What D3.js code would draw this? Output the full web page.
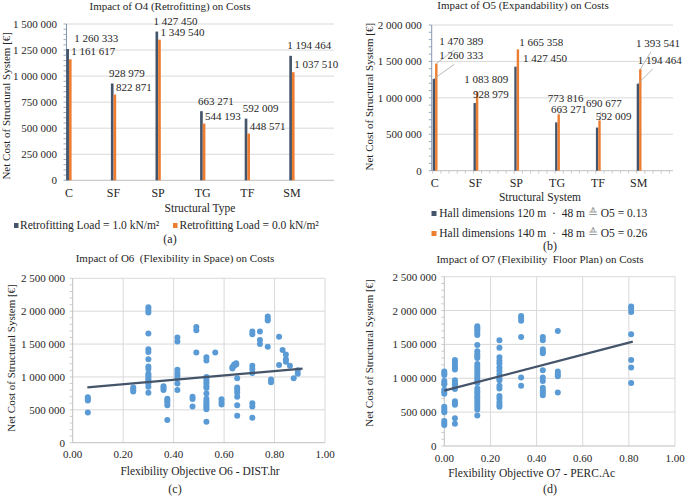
<!DOCTYPE html>
<html><head><meta charset="utf-8">
<script src="https://cdn.jsdelivr.net/npm/d3@7"></script>
<style>
body{margin:0;background:#fff}
text{white-space:pre}
</style>
</head><body>
<svg id="chart" width="685" height="496"></svg>
<script>
// ---------------- DATA ----------------
const categories = ["C", "SF", "SP", "TG", "TF", "SM"];
const o4Load10 = [1260333, 928979, 1427450, 663271, 592009, 1194464];
const o4Load00 = [1161617, 822871, 1349540, 544193, 448571, 1037510];
const o5Hall120 = [1260333, 928979, 1427450, 663271, 592009, 1194464];
const o5Hall140 = [1470389, 1083809, 1665358, 773816, 690677, 1393541];

const yTicksA = [0, 250000, 500000, 750000, 1000000, 1250000, 1500000];
const yTicksB = [0, 500000, 1000000, 1500000, 2000000];
const yTicksScatter = [0, 500000, 1000000, 1500000, 2000000, 2500000];
const xTicksScatter = [0, 0.2, 0.4, 0.6, 0.8, 1.0];

// O6 scatter: [DIST.hr, cost]
const o6Points = [
 [0.06,690000],[0.06,660000],[0.06,640000],[0.06,460000],
 [0.24,840000],[0.24,810000],[0.24,780000],
 [0.30,2060000],[0.30,2020000],[0.30,1980000],[0.30,1660000],[0.30,1420000],[0.30,1380000],
 [0.30,1270000],[0.30,1160000],[0.30,1120000],[0.30,1050000],[0.30,1020000],[0.30,990000],
 [0.30,960000],[0.30,930000],[0.30,900000],[0.30,850000],[0.30,760000],
 [0.36,860000],[0.36,830000],[0.36,800000],
 [0.375,670000],[0.375,640000],[0.375,610000],[0.375,570000],[0.375,345000],
 [0.415,1600000],[0.415,1540000],[0.415,1110000],[0.415,1060000],[0.415,1020000],[0.415,980000],
 [0.415,900000],[0.415,800000],
 [0.475,700000],[0.475,665000],[0.475,550000],
 [0.49,1760000],[0.49,1710000],[0.49,1370000],
 [0.53,1300000],[0.53,1250000],[0.53,1000000],[0.53,970000],[0.53,930000],[0.53,900000],
 [0.53,860000],[0.53,830000],[0.53,750000],[0.53,670000],[0.53,630000],[0.53,600000],
 [0.53,570000],[0.53,540000],[0.53,510000],[0.53,320000],
 [0.565,1370000],
 [0.59,660000],[0.59,620000],[0.59,580000],
 [0.633,1150000],[0.633,1130000],[0.64,1170000],[0.64,1190000],[0.648,1210000],[0.648,1190000],
 [0.652,980000],[0.652,840000],[0.652,800000],[0.652,760000],[0.652,700000],[0.652,570000],[0.652,410000],
 [0.712,1690000],[0.712,1650000],[0.712,1170000],[0.712,1120000],[0.712,1060000],
 [0.712,600000],[0.712,550000],[0.712,380000],
 [0.742,1690000],[0.742,1560000],[0.742,1500000],
 [0.773,1920000],[0.773,1880000],[0.773,1860000],[0.773,1460000],
 [0.786,960000],[0.786,920000],
 [0.818,1610000],[0.818,1180000],
 [0.832,1410000],
 [0.845,1340000],[0.845,1270000],[0.845,1230000],
 [0.861,1170000],
 [0.876,980000],
 [0.892,1100000],[0.892,1050000]
];
const o6Trend = [[0.058, 842000], [0.911, 1126000]];

// O7 scatter: [PERC.Ac, cost]
const o7Points = [
 [0.00,1100000],[0.00,1070000],[0.00,1050000],[0.00,960000],[0.00,930000],[0.00,910000],
 [0.00,830000],[0.00,800000],[0.00,770000],[0.00,580000],[0.00,550000],[0.00,520000],
 [0.00,500000],[0.00,370000],[0.00,340000],[0.00,310000],
 [0.046,1270000],[0.046,1240000],[0.046,1200000],[0.046,1160000],[0.046,1130000],
 [0.046,970000],[0.046,940000],[0.046,910000],[0.046,870000],[0.046,840000],
 [0.046,660000],[0.046,630000],[0.046,610000],[0.046,410000],[0.046,330000],
 [0.143,1770000],[0.143,1740000],[0.143,1710000],[0.143,1670000],[0.143,1640000],[0.143,1490000],
 [0.143,1400000],[0.143,1360000],[0.143,1330000],[0.143,1300000],[0.143,1210000],[0.143,1170000],
 [0.143,1130000],[0.143,1090000],[0.143,1050000],[0.143,1010000],[0.143,970000],[0.143,930000],
 [0.143,850000],[0.143,810000],[0.143,770000],[0.143,730000],[0.143,700000],[0.143,660000],
 [0.143,620000],[0.143,580000],[0.143,540000],[0.143,450000],
 [0.239,1560000],[0.239,1450000],[0.239,1310000],[0.239,1260000],[0.239,1220000],[0.239,1160000],
 [0.239,1110000],[0.239,1060000],[0.239,1000000],[0.239,970000],[0.239,890000],[0.239,850000],
 [0.239,740000],[0.239,700000],[0.239,650000],[0.239,610000],[0.239,580000],
 [0.333,1920000],[0.333,1890000],[0.333,1850000],[0.333,1610000],[0.333,1010000],[0.333,890000],
 [0.427,1610000],[0.427,1560000],[0.427,1430000],[0.427,1390000],[0.427,1370000],[0.427,1120000],
 [0.427,1010000],[0.427,960000],[0.427,860000],[0.427,820000],[0.427,790000],[0.427,750000],
 [0.492,1700000],[0.492,1100000],[0.492,1060000],[0.492,1030000],[0.492,790000],
 [0.81,2060000],[0.81,2030000],[0.81,1980000],[0.81,1650000],[0.81,1270000],[0.81,1160000],[0.81,930000]
];
const o7Trend = [[0.0, 817000], [0.817, 1540000]];

// ---------------- STYLE / LAYOUT ----------------
const NAVY = "#44546A", ORANGE = "#ED7D31", BLUE = "#5B9BD5", GRID = "#D9D9D9", AXIS = "#BFBFBF", VAXIS = "#8497B0";
const FS = 11;
const BASE = 24;
const FONT = "'Liberation Serif', 'Times New Roman', serif";
const svg = d3.select("#chart");
const fmt = v => d3.format(",")(v).replace(/,/g, " ");

// text is set at a fixed base size and scaled down to the wanted size
function text(g, x, y, s, anchor, size, rot) {
  const k = (size || FS) / BASE;
  const t = g.append("text").attr("text-anchor", anchor || "start")
    .attr("font-family", FONT).attr("font-size", BASE + "px").attr("fill", "#262626")
    .attr("transform", `translate(${x},${y}) scale(${k})` + (rot ? " rotate(-90)" : ""))
    .text(s);
  if (rot) t.attr("dominant-baseline", "central");
  return t;
}

function yAxisWithMinor(y, x, maxV, step, color) {
  svg.append("line").attr("x1", x).attr("x2", x).attr("y1", y(0)).attr("y2", y(maxV))
    .attr("stroke", color).attr("stroke-width", 1);
  const minor = d3.range(0, maxV + 1, step);
  svg.append("g").selectAll("line").data(minor).join("line")
    .attr("x1", x - 3).attr("x2", x).attr("y1", d => y(d)).attr("y2", d => y(d))
    .attr("stroke", color).attr("stroke-width", 0.8);
}

// ---------------- CHART (a) ----------------
(function () {
  const x = d3.scaleLinear().domain([0, 6]).range([66.3, 333.9]);
  const y = d3.scaleLinear().domain([0, 1500000]).range([180.3, 24]);
  const bw = 2.65;
  svg.append("g").selectAll("line").data(yTicksA.slice(1)).join("line")
    .attr("x1", 66.5).attr("x2", 334).attr("y1", d => y(d)).attr("y2", d => y(d))
    .attr("stroke", GRID);
  svg.append("line").attr("x1", 66.5).attr("x2", 334).attr("y1", y(0)).attr("y2", y(0)).attr("stroke", AXIS);
  yAxisWithMinor(y, 66.5, 1500000, 50000, VAXIS);
  yTicksA.forEach(d => text(svg, 57, y(d) + 4, fmt(d), "end"));
  svg.append("g").selectAll("rect").data(o4Load10).join("rect")
    .attr("x", (d, i) => x(i)).attr("width", bw).attr("y", d => y(d)).attr("height", d => y(0) - y(d)).attr("fill", NAVY);
  svg.append("g").selectAll("rect").data(o4Load00).join("rect")
    .attr("x", (d, i) => x(i) + bw).attr("width", bw).attr("y", d => y(d)).attr("height", d => y(0) - y(d)).attr("fill", ORANGE);
  o4Load10.forEach((d, i) => text(svg, x(i) + (i === 0 ? 8 : -2), y(d) - 6.5, fmt(d)));
  o4Load00.forEach((d, i) => text(svg, x(i) + 5, y(d) - 4, fmt(d)));
  categories.forEach((d, i) => text(svg, x(i) + 2.6, 196.7, d, "middle", 12));
  text(svg, 6, 105.8, "Net Cost of Structural System [€]", "middle", FS, true);
  text(svg, 170, 9.5, "Impact of O4 (Retrofitting) on Costs", "middle", FS);
  text(svg, 200, 212, "Structural Type", "middle", 11.5);
  svg.append("rect").attr("x", 14).attr("y", 223).attr("width", 4.5).attr("height", 5).attr("fill", NAVY);
  text(svg, 20, 229.3, "Retrofitting Load = 1.0 kN/m²", "start", 11.5);
  svg.append("rect").attr("x", 173).attr("y", 223).attr("width", 4.5).attr("height", 5).attr("fill", ORANGE);
  text(svg, 179.5, 229.3, "Retrofitting Load = 0.0 kN/m²", "start", 11.5);
  text(svg, 170, 242.5, "(a)", "middle", 12);
})();

// ---------------- CHART (b) ----------------
(function () {
  const x = d3.scaleLinear().domain([0, 5]).range([432.7, 636.7]);
  const y = d3.scaleLinear().domain([0, 2000000]).range([170.7, 25]);
  const bw = 2.4;
  const right = 673;
  svg.append("g").selectAll("line").data(yTicksB.slice(1)).join("line")
    .attr("x1", 431.7).attr("x2", right).attr("y1", d => y(d)).attr("y2", d => y(d))
    .attr("stroke", GRID);
  svg.append("line").attr("x1", 431.7).attr("x2", right).attr("y1", y(0)).attr("y2", y(0)).attr("stroke", AXIS);
  svg.append("g").selectAll("line").data(d3.range(0, 5.95, 0.2)).join("line")
    .attr("x1", d => x(d)).attr("x2", d => x(d)).attr("y1", y(0)).attr("y2", y(0) + 3)
    .attr("stroke", AXIS).attr("stroke-width", 0.8);
  yAxisWithMinor(y, 431.7, 2000000, 100000, VAXIS);
  yTicksB.forEach(d => text(svg, 421.7, y(d) + 4, fmt(d), "end"));
  svg.append("g").selectAll("rect").data(o5Hall120).join("rect")
    .attr("x", (d, i) => x(i)).attr("width", bw).attr("y", d => y(d)).attr("height", d => y(0) - y(d)).attr("fill", NAVY);
  svg.append("g").selectAll("rect").data(o5Hall140).join("rect")
    .attr("x", (d, i) => x(i) + bw).attr("width", bw).attr("y", d => y(d)).attr("height", d => y(0) - y(d)).attr("fill", ORANGE);
  // label placement (layout offsets from bar top)
  const shift120 = [[6.6, -19.6], [-0.6, -4.7], [8.7, -5], [-4.1, -9.1], [-0.2, -7.6], [1, -19.7]];
  const shift140 = [[6.6, -18.6], [-9.3, -9], [5, -3.7], [-7.4, -12.6], [-9.9, -13.7], [-0.7, -22.5]];
  function labels(vals, shifts, off) {
    vals.forEach((v, i) => {
      const bx = x(i) + off, by = y(v);
      const lx = x(i) + shifts[i][0], ly = by + shifts[i][1];
      if (shifts[i][1] < -12) {
        svg.append("line").attr("x1", bx).attr("y1", by).attr("x2", lx + 15).attr("y2", ly + 5)
          .attr("stroke", "#A6A6A6").attr("stroke-width", 0.8);
      }
      text(svg, lx, ly, fmt(v), "start", FS);
    });
  }
  labels(o5Hall140, shift140, bw + 1.2);
  labels(o5Hall120, shift120, 1.2);
  categories.forEach((d, i) => text(svg, x(i) + 2, 186.7, d, "middle", 12));
  text(svg, 369, 96.7, "Net Cost of Structural System [€]", "middle", FS, true);
  text(svg, 523, 9, "Impact of O5 (Expandability) on Costs", "middle", FS);
  text(svg, 540, 201, "Structural System", "middle", 11.5);
  svg.append("rect").attr("x", 431.5).attr("y", 211).attr("width", 5).attr("height", 5).attr("fill", NAVY);
  const l1 = text(svg, 439.3, 216.7, "", "start", 11.5);
  l1.append("tspan").text("Hall dimensions 120 m  ·  48 m ");
  l1.append("tspan").attr("fill", "#9a9a9a").text("≙");
  l1.append("tspan").text(" O5 = 0.13");
  svg.append("rect").attr("x", 431.5).attr("y", 231).attr("width", 5).attr("height", 5).attr("fill", ORANGE);
  const l2 = text(svg, 439.3, 236.7, "", "start", 11.5);
  l2.append("tspan").text("Hall dimensions 140 m  ·  48 m ");
  l2.append("tspan").attr("fill", "#9a9a9a").text("≙");
  l2.append("tspan").text(" O5 = 0.26");
  text(svg, 550, 249.5, "(b)", "middle", 12);
})();

// ---------------- SCATTER CHARTS ----------------
function scatter(o) {
  const x = d3.scaleLinear().domain([0, 1]).range([o.x0, o.x1]);
  const y = d3.scaleLinear().domain([0, 2500000]).range([o.y0, o.y1]);
  svg.append("g").selectAll("line").data(yTicksScatter.slice(1)).join("line")
    .attr("x1", o.x0).attr("x2", o.x1).attr("y1", d => y(d)).attr("y2", d => y(d)).attr("stroke", GRID);
  svg.append("g").selectAll("line").data(xTicksScatter.slice(1)).join("line")
    .attr("x1", d => x(d)).attr("x2", d => x(d)).attr("y1", o.y0).attr("y2", o.y1).attr("stroke", GRID);
  svg.append("line").attr("x1", o.x0).attr("x2", o.x1).attr("y1", o.y0).attr("y2", o.y0).attr("stroke", AXIS);
  yAxisWithMinor(y, o.x0, 2500000, 100000, AXIS);
  yTicksScatter.forEach(d => text(svg, o.x0 - 7.7, y(d) + 4, fmt(d), "end"));
  xTicksScatter.forEach(d => text(svg, x(d), o.y0 + 15.7, d3.format(".2f")(d), "middle"));
  svg.append("g").selectAll("circle").data(o.points).join("circle")
    .attr("cx", d => x(d[0])).attr("cy", d => y(d[1])).attr("r", 3).attr("fill", BLUE);
  svg.append("path").datum(o.trend)
    .attr("d", d3.line().x(d => x(d[0])).y(d => y(d[1])))
    .attr("stroke", NAVY).attr("stroke-width", 2.3).attr("fill", "none");
  text(svg, o.titleX, o.titleY, o.title, "middle", FS);
  text(svg, o.xtX, o.xtY, o.xTitle, "middle", 11.5);
  text(svg, o.ytX, o.ytY, "Net Cost of Structural System [€]", "middle", FS, true);
  text(svg, o.capX, 493.3, o.cap, "middle", 12);
}

scatter({
  x0: 72.7, x1: 325, y0: 442.7, y1: 278.3, points: o6Points, trend: o6Trend,
  title: "Impact of O6  (Flexibility in Space) on Costs", titleX: 175, titleY: 262.3,
  xTitle: "Flexibility Objective O6 - DIST.hr", xtX: 200, xtY: 475,
  ytX: 10.5, ytY: 358, cap: "(c)", capX: 175
});
scatter({
  x0: 444.3, x1: 675, y0: 446, y1: 276.7, points: o7Points, trend: o7Trend,
  title: "Impact of O7 (Flexibility  Floor Plan) on Costs", titleX: 540, titleY: 263.3,
  xTitle: "Flexibility Objective O7 - PERC.Ac", xtX: 531.7, xtY: 476.7,
  ytX: 369, ytY: 353, cap: "(d)", capX: 550
});
</script>
</body></html>
